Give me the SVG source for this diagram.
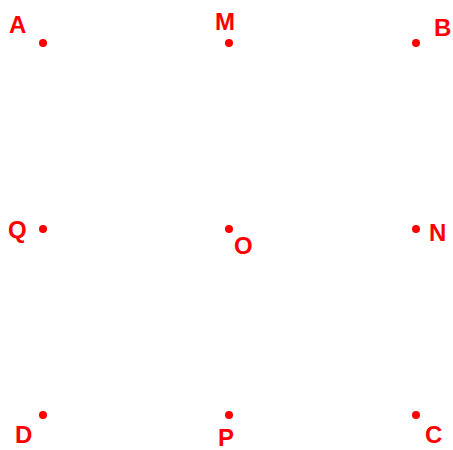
<svg xmlns="http://www.w3.org/2000/svg" width="453" height="450" viewBox="0 0 453 450">
<style>
.pt{fill:#ff0000}
.lb{fill:#ff0000;font-family:"Liberation Sans",Arial,sans-serif;font-weight:bold;font-size:24px}
</style>
<rect width="453" height="450" fill="#fff"/>
<g id="A"><circle class="pt" cx="43" cy="43" r="4"/><text class="lb" x="9" y="33">A</text></g>
<g id="M"><circle class="pt" cx="229" cy="43" r="4"/><text class="lb" x="215" y="30">M</text></g>
<g id="B"><circle class="pt" cx="416" cy="43" r="4"/><text class="lb" x="434" y="36">B</text></g>
<g id="Q"><circle class="pt" cx="43" cy="229" r="4"/><text class="lb" x="8" y="238">Q</text></g>
<g id="O"><circle class="pt" cx="229" cy="229" r="4"/><text class="lb" x="234" y="254">O</text></g>
<g id="N"><circle class="pt" cx="416" cy="229" r="4"/><text class="lb" x="429" y="241">N</text></g>
<g id="D"><circle class="pt" cx="43" cy="415" r="4"/><text class="lb" x="15" y="443">D</text></g>
<g id="P"><circle class="pt" cx="229" cy="415" r="4"/><text class="lb" x="218" y="446">P</text></g>
<g id="C"><circle class="pt" cx="416" cy="415" r="4"/><text class="lb" x="425" y="443">C</text></g>
<g id="connectors"/>
</svg>
